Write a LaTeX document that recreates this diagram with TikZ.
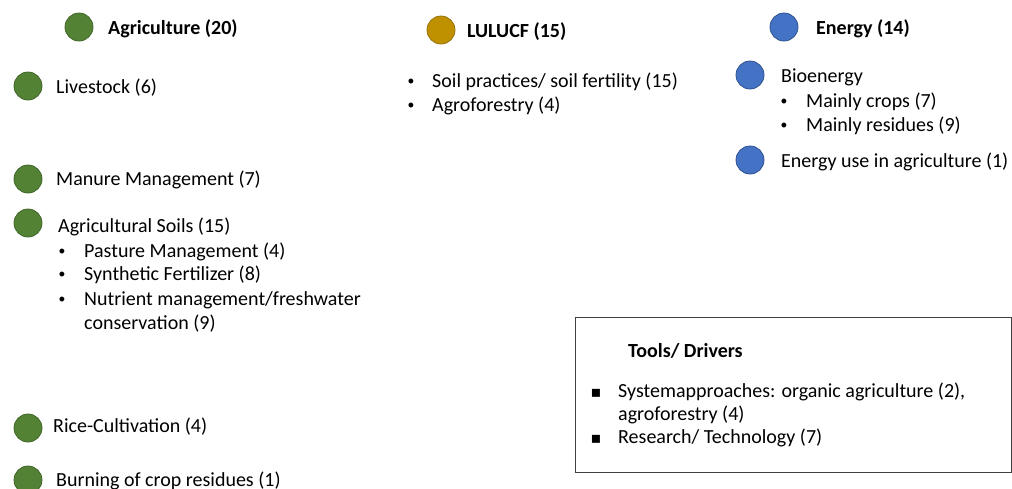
\documentclass[tikz,border=0pt]{standalone}
\usepackage{fontspec}
\setmainfont{Carlito}
\newfontfamily\dejavu{DejaVu Sans}
\newfontfamily\arialfont{Liberation Sans}
\definecolor{agrifill}{HTML}{548235}
\definecolor{agriline}{HTML}{41662A}
\definecolor{lulufill}{HTML}{BF9000}
\definecolor{lululine}{HTML}{96720A}
\definecolor{enfill}{HTML}{4472C4}
\definecolor{enline}{HTML}{2F528F}
\definecolor{boxline}{HTML}{404040}
\begin{document}
\begin{tikzpicture}[x=1pt,y=-1pt,
  dot/.style={circle,minimum size=28pt,inner sep=0pt,line width=0.8pt},
  agridot/.style={dot,fill=agrifill,draw=agriline},
  ludot/.style={dot,fill=lulufill,draw=lululine},
  endot/.style={dot,fill=enfill,draw=enline},
  txt/.style={anchor=base west,inner sep=0pt,font=\fontsize{20}{24}\selectfont},
  head/.style={txt,font=\fontsize{20}{24}\selectfont\bfseries},
  bul/.style={anchor=base,inner sep=0pt,font=\fontsize{18}{24}\arialfont},
  sqbul/.style={anchor=base,inner sep=0pt,font=\fontsize{16}{18}\dejavu},
  framebox/.style={draw=boxline,line width=1.2pt}]
\useasboundingbox (0,0) rectangle (1012,488);
% Agriculture
\node[agridot] (cAgri) at (79,27) {};
\node[head] (tAgri) at (108,34) {Agriculture (20)};
\node[agridot] (cLive) at (28,86) {};
\node[txt] (tLive) at (56,93) {Livestock (6)};
\node[agridot] (cMan) at (28,179) {};
\node[txt] (tMan) at (56,185) {Manure Management (7)};
\node[agridot] (cSoil) at (28,223) {};
\node[txt] (tSoil) at (58,232) {Agricultural Soils (15)};
\node[bul] (b1) at (62,257) {•};
\node[txt] (tPast) at (84,257) {Pasture Management (4)};
\node[bul] (b2) at (62,280) {•};
\node[txt] (tSyn) at (84,280) {Synthetic Fertilizer (8)};
\node[bul] (b3) at (62,305) {•};
\node[txt] (tNut) at (84,305) {Nutrient management/freshwater};
\node[txt] (tCons) at (84,329) {conservation (9)};
\node[agridot] (cRice) at (28,428) {};
\node[txt] (tRice) at (53,432) {Rice-Cultivation (4)};
\node[agridot] (cBurn) at (28,480) {};
\node[txt] (tBurn) at (56,486) {Burning of crop residues (1)};
% LULUCF
\node[ludot] (cLu) at (441,30) {};
\node[head] (tLu) at (467,37) {LULUCF (15)};
\node[bul] (b4) at (411,87) {•};
\node[txt] (tSp) at (432,87) {Soil practices/ soil fertility (15)};
\node[bul] (b5) at (411,111) {•};
\node[txt] (tAf) at (432,111) {Agroforestry (4)};
% Energy
\node[endot] (cEn) at (784,27) {};
\node[head] (tEn) at (816,34) {Energy (14)};
\node[endot] (cBio) at (750,75) {};
\node[txt] (tBio) at (781,82) {Bioenergy};
\node[bul] (b6) at (784,107) {•};
\node[txt] (tCrop) at (806,107) {Mainly crops (7)};
\node[bul] (b7) at (784,131) {•};
\node[txt] (tRes) at (806,131) {Mainly residues (9)};
\node[endot] (cUse) at (750,160) {};
\node[txt] (tUse) at (781,167) {Energy use in agriculture (1)};
% Tools box
\node[framebox,minimum width=436pt,minimum height=155pt,anchor=north west,inner sep=0pt] (box) at (575,317) {};
\node[head] (tTools) at (628,357) {Tools/ Drivers};
\node[sqbul] (s1) at (596,397) {▪};
\node[txt] (tSys) at (618,397) {Systemapproaches: organic agriculture (2),};
\node[txt] (tSys2) at (618,420) {agroforestry (4)};
\node[sqbul] (s2) at (596,443) {▪};
\node[txt] (tRsch) at (618,443) {Research/ Technology (7)};
\end{tikzpicture}
\end{document}
